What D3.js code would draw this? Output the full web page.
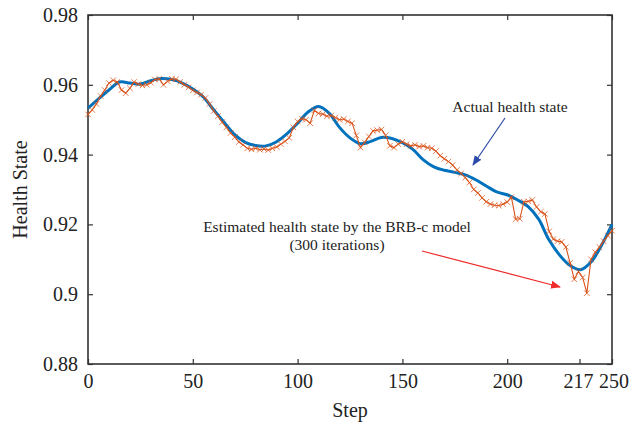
<!DOCTYPE html>
<html>
<head>
<meta charset="utf-8">
<script src="https://cdn.jsdelivr.net/npm/d3@7"></script>
<style>
  body { margin: 0; background: #fff; }
  svg text { font-family: "Liberation Serif", "DejaVu Serif", serif; fill: #222; }
</style>
</head>
<body>
<div id="chart"></div>
<script>
// actual health state, read every 5 steps
var actualSteps = d3.range(0, 251, 5);
var actualValues = [
  0.9533, 0.9560, 0.9585, 0.9608, 0.9605, 0.9602, 0.9612, 0.9618, 0.9615, 0.9605,
  0.9588, 0.9565, 0.9528, 0.9492, 0.9457, 0.9435, 0.9426, 0.9425, 0.9437, 0.9460,
  0.9490, 0.9522, 0.9538, 0.9519, 0.9478, 0.9448, 0.9431, 0.9438, 0.9449, 0.9446,
  0.9434, 0.9415, 0.9385, 0.9365, 0.9355, 0.9349, 0.9342, 0.9328, 0.9310, 0.9293,
  0.9285, 0.9270, 0.9251, 0.9215, 0.9155, 0.9112, 0.9082, 0.9070, 0.9092, 0.9140,
  0.9200
];

// estimated health state (BRB-c), read every 2 steps
var estSteps = d3.range(0, 251, 2);
var estValues = [
  0.9515, 0.9528, 0.9545, 0.9568, 0.9585, 0.9605, 0.9613, 0.9608, 0.9585, 0.9576,
  0.9590, 0.9608, 0.9602, 0.9598, 0.9600, 0.9606, 0.9615, 0.9617, 0.9600, 0.9610,
  0.9617, 0.9616, 0.9608, 0.9600, 0.9593, 0.9584, 0.9578, 0.9572, 0.9562, 0.9545,
  0.9525, 0.9510, 0.9493, 0.9478, 0.9462, 0.9450, 0.9436, 0.9428, 0.9418, 0.9415,
  0.9418, 0.9414, 0.9416, 0.9413, 0.9418, 0.9422, 0.9430, 0.9438, 0.9448, 0.9478,
  0.9495, 0.9503, 0.9500, 0.9490, 0.9527, 0.9518, 0.9516, 0.9510, 0.9512, 0.9506,
  0.9500, 0.9502, 0.9495, 0.9490, 0.9455, 0.9420, 0.9435, 0.9452, 0.9468, 0.9470,
  0.9472, 0.9455, 0.9425, 0.9420, 0.9430, 0.9437, 0.9430, 0.9425, 0.9428, 0.9423,
  0.9425, 0.9420, 0.9418, 0.9410, 0.9397, 0.9388, 0.9380, 0.9370, 0.9356, 0.9346,
  0.9334, 0.9320, 0.9300, 0.9290, 0.9276, 0.9265, 0.9258, 0.9255, 0.9254, 0.9258,
  0.9264, 0.9278, 0.9215, 0.9216, 0.9265, 0.9266, 0.9270, 0.9250, 0.9236, 0.9230,
  0.9180, 0.9158, 0.9152, 0.9150, 0.9135, 0.9090, 0.9043, 0.9065, 0.9048, 0.9003,
  0.9100, 0.9120, 0.9135, 0.9152, 0.9168, 0.9182
];

var xTickValues = [0, 50, 100, 150, 200, 234.5, 250];
var xTickLabels = ["0", "50", "100", "150", "200", "217", "250"];
var yTickValues = [0.88, 0.9, 0.92, 0.94, 0.96, 0.98];
var yTickLabels = ["0.88", "0.9", "0.92", "0.94", "0.96", "0.98"];

var svgWidth = 638;
var svgHeight = 428;
var margin = { top: 15, right: 26, bottom: 64, left: 88 };
var width = svgWidth - margin.left - margin.right;
var height = svgHeight - margin.top - margin.bottom;

var blue = "#0072bd";
var orange = "#d95319";
var axisColor = "#333";

var svg = d3.select("#chart").append("svg")
  .attr("width", svgWidth)
  .attr("height", svgHeight);

var defs = svg.append("defs");
[["headBlue", "#2c4aa8"], ["headRed", "#ee2a2a"]].forEach(function (m) {
  defs.append("marker")
    .attr("id", m[0])
    .attr("viewBox", "0 0 10 10")
    .attr("refX", 9).attr("refY", 5)
    .attr("markerWidth", 10).attr("markerHeight", 10)
    .attr("markerUnits", "userSpaceOnUse")
    .attr("orient", "auto")
    .append("path")
    .attr("d", "M0,1 L10,5 L0,9 Z")
    .attr("fill", m[1]);
});

var chartGroup = svg.append("g")
  .attr("transform", `translate(${margin.left}, ${margin.top})`);

var xScale = d3.scaleLinear().domain([0, 250]).range([0, width]);
var yScale = d3.scaleLinear().domain([0.88, 0.98]).range([height, 0]);

// axes, ticks pointing inward
var bottomAxis = d3.axisBottom(xScale)
  .tickValues(xTickValues)
  .tickFormat((d, i) => xTickLabels[i])
  .tickSizeInner(-5).tickSizeOuter(0).tickPadding(9.5);
var leftAxis = d3.axisLeft(yScale)
  .tickValues(yTickValues)
  .tickFormat((d, i) => yTickLabels[i])
  .tickSizeInner(-5).tickSizeOuter(0).tickPadding(10);
var topAxis = d3.axisTop(xScale)
  .tickValues(xTickValues.filter(d => d % 50 === 0))
  .tickFormat("").tickSizeInner(-5).tickSizeOuter(0);
var rightAxis = d3.axisRight(yScale)
  .tickValues(yTickValues).tickFormat("").tickSizeInner(-5).tickSizeOuter(0);

var gx = chartGroup.append("g")
  .attr("transform", `translate(0, ${height})`)
  .call(bottomAxis);
var gy = chartGroup.append("g").call(leftAxis);
var gt = chartGroup.append("g").call(topAxis);
var gr = chartGroup.append("g").attr("transform", `translate(${width}, 0)`).call(rightAxis);

[gx, gy, gt, gr].forEach(function (g) {
  g.selectAll("path.domain").remove();
  g.selectAll("line").attr("stroke", axisColor).attr("stroke-width", 1.2);
  g.selectAll("text")
    .style("font-family", "Liberation Serif")
    .style("font-size", "20px")
    .attr("fill", "#222");
});
gx.selectAll(".tick text").filter((d, i) => xTickLabels[i] === "217")
  .attr("fill", "#e8252b").attr("dx", -1.5);
gx.selectAll(".tick text").filter((d, i) => xTickLabels[i] === "250")
  .attr("dx", 1.5);

chartGroup.append("rect")
  .attr("width", width).attr("height", height)
  .attr("fill", "none")
  .attr("stroke", axisColor)
  .attr("stroke-width", 1.6);

// series
var actualData = actualSteps.map((s, i) => ({ step: s, value: actualValues[i] }));
var estData = estSteps.map((s, i) => ({ step: s, value: estValues[i] }));

chartGroup.append("path")
  .datum(actualData)
  .attr("fill", "none")
  .attr("stroke", blue)
  .attr("stroke-width", 3)
  .attr("d", d3.line().x(d => xScale(d.step)).y(d => yScale(d.value)).curve(d3.curveCatmullRom));

chartGroup.append("path")
  .datum(estData)
  .attr("fill", "none")
  .attr("stroke", orange)
  .attr("stroke-width", 1.1)
  .attr("d", d3.line().x(d => xScale(d.step)).y(d => yScale(d.value)));

var cross = d3.symbol().type(d3.symbolX).size(22);
chartGroup.selectAll(".est-marker")
  .data(estData)
  .enter()
  .append("path")
  .attr("class", "est-marker")
  .attr("transform", d => `translate(${xScale(d.step)}, ${yScale(d.value)})`)
  .attr("d", cross)
  .attr("fill", "none")
  .attr("stroke", orange)
  .attr("stroke-opacity", 0.75)
  .attr("stroke-width", 1);

// annotations
svg.append("text")
  .attr("x", 510).attr("y", 112)
  .attr("text-anchor", "middle")
  .style("font-size", "15.5px")
  .text("Actual health state");
svg.append("line")
  .attr("x1", 505).attr("y1", 118).attr("x2", 473).attr("y2", 165)
  .attr("stroke", "#2c4aa8").attr("stroke-width", 1.2)
  .attr("marker-end", "url(#headBlue)");

svg.append("text")
  .attr("x", 337).attr("y", 232)
  .attr("text-anchor", "middle")
  .style("font-size", "15.5px")
  .text("Estimated health state by the BRB-c model");
svg.append("text")
  .attr("x", 337).attr("y", 250)
  .attr("text-anchor", "middle")
  .style("font-size", "15.5px")
  .text("(300 iterations)");
svg.append("line")
  .attr("x1", 422).attr("y1", 251).attr("x2", 560).attr("y2", 287)
  .attr("stroke", "#ee2a2a").attr("stroke-width", 1.2)
  .attr("marker-end", "url(#headRed)");

// axis titles
chartGroup.append("text")
  .attr("transform", `translate(${width / 2}, ${height + 53})`)
  .attr("text-anchor", "middle")
  .style("font-size", "20px")
  .text("Step");

chartGroup.append("text")
  .attr("transform", "rotate(-90)")
  .attr("x", 0 - (height / 2))
  .attr("y", 0 - margin.left + 27)
  .attr("text-anchor", "middle")
  .style("font-size", "20px")
  .text("Health State");
</script>
</body>
</html>
